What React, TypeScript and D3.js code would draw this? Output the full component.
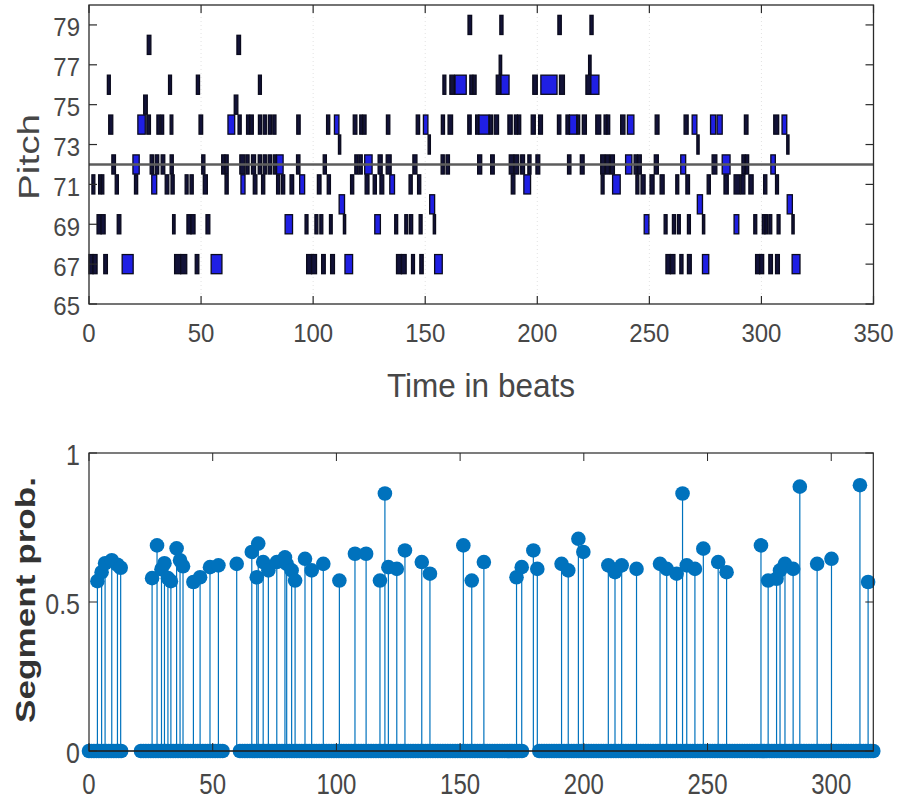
import React, { useEffect, useRef } from 'react';
import * as d3 from 'd3';

// piano roll, one list per pitch: [onset (beats), duration (beats), loud (1 = blue note)]
const notes67 = [[0, 1.8, 0], [1.8, 1.8, 0], [6.6, 1.6, 0], [14.8, 4.9, 1], [38.2, 2.7, 0], [40.9, 2.7, 0], [47.4, 1.6, 0], [54.5, 4.8, 1], [97.1, 2.2, 0], [99.3, 2.2, 0], [103.8, 1.6, 0], [107.8, 1.7, 0], [114.2, 3.4, 1], [137.2, 2.2, 0], [139.4, 2.1, 0], [143.9, 1.3, 0], [147.6, 1.5, 0], [154.2, 3.4, 1], [257.4, 2, 0], [259.4, 2, 0], [263.6, 1.4, 0], [267, 1.7, 0], [273.7, 2.8, 1], [297.4, 1.8, 0], [299.2, 1.8, 0], [303.3, 1.6, 0], [306.3, 1.7, 0], [313.7, 3.5, 1]];
const notes69 = [[3.6, 1.8, 0], [5.4, 1.8, 0], [12.6, 1.6, 0], [37.3, 1.1, 0], [43.7, 1.8, 0], [45.5, 1.8, 0], [52.2, 1.7, 0], [87.5, 3.3, 1], [96.4, 1.3, 0], [100.8, 1.3, 0], [103, 1.3, 0], [107.3, 1.2, 0], [113.5, 1, 0], [127.5, 2.5, 1], [136.4, 1.3, 0], [140.9, 1.3, 0], [143, 1.4, 0], [147.3, 1.3, 0], [153.6, 1, 0], [247.7, 2.1, 1], [256.6, 1.3, 0], [260.3, 1.3, 0], [262.5, 1.3, 0], [267, 1.3, 0], [273.7, 1, 0], [287.8, 2.1, 1], [296.6, 1.3, 0], [300.4, 1.1, 0], [301.6, 1.1, 0], [303.3, 1.3, 0], [307, 1.3, 0], [313.6, 1, 0]];
const notes70 = [[111.6, 2.4, 1], [152, 2.2, 1], [271.4, 2.3, 1], [311.5, 2.3, 1]];
const notes71 = [[1.3, 1.3, 0], [4.3, 1, 0], [5.6, 1, 0], [11.7, 1.4, 0], [20.3, 1.4, 0], [28, 2.2, 1], [34, 1.6, 0], [36.6, 1.4, 0], [42.9, 1.3, 0], [45.1, 1.4, 0], [51, 1.8, 0], [60.7, 1.4, 0], [67.8, 1.8, 1], [73.3, 1.6, 0], [77, 1.4, 0], [83.7, 1.4, 0], [85.9, 1.4, 0], [89.7, 1.6, 0], [94, 2.2, 1], [101.9, 1.6, 0], [106.3, 1.4, 0], [116.7, 1.4, 0], [123.2, 1.7, 0], [126.8, 1.4, 0], [129.8, 1.7, 0], [134.2, 2.1, 1], [142.8, 1.4, 0], [146.6, 1.4, 0], [188.4, 1.6, 0], [194, 3, 1], [228.5, 1.3, 0], [233.6, 3.4, 1], [244, 1.3, 0], [246.3, 1.8, 0], [250.3, 1.8, 0], [254.8, 1.8, 0], [261.8, 1.3, 0], [266.3, 1.6, 0], [275.8, 1.4, 0], [283.3, 1.9, 0], [287.8, 2.6, 0], [290.8, 1.8, 0], [294.4, 1.9, 0], [301, 1.4, 0], [306.3, 1.3, 0]];
const notes72 = [[10.2, 1.6, 0], [19.6, 2.8, 1], [27.3, 1.4, 0], [29.5, 1.6, 0], [32.2, 1.6, 0], [36.2, 1.4, 0], [50.3, 1.4, 0], [59.2, 1.4, 0], [60.7, 1.4, 0], [67.3, 2.2, 0], [70, 1.4, 0], [72.5, 1.8, 0], [75.5, 1.4, 0], [77.7, 1.4, 0], [79.9, 1.5, 0], [82.2, 1.2, 0], [83.7, 2.9, 1], [92.6, 1.5, 0], [104.5, 1.4, 0], [118.6, 1.4, 0], [120.4, 1.5, 0], [123, 3.3, 1], [129, 1.8, 0], [132.6, 2.2, 0], [144.5, 1.8, 0], [157.1, 1.4, 0], [159.3, 1.5, 0], [173.4, 1.8, 0], [179.2, 1.6, 0], [187.5, 2, 0], [189.7, 2, 0], [192.6, 1.7, 0], [195.8, 1.4, 0], [199.4, 1.7, 0], [213.5, 1.5, 0], [219.2, 1.7, 0], [228.3, 1.8, 0], [230.4, 1.8, 0], [232.6, 1.8, 0], [239.4, 2.8, 1], [243.2, 1.4, 0], [244.8, 1.6, 0], [252.2, 1.8, 0], [264, 2.2, 1], [278, 2.1, 0], [282.5, 3.5, 1], [291.3, 1.4, 0], [292.9, 1.4, 0], [304.2, 2, 1]];
const notes73 = [[111.3, 1, 0], [151.3, 1, 0], [271.2, 1, 0], [311.3, 1, 0]];
const notes74 = [[8.8, 1.8, 0], [21.8, 3.3, 1], [25.8, 1.6, 0], [30.3, 1.3, 0], [32, 1.3, 0], [36.2, 1.2, 0], [49.1, 1.6, 0], [62, 3, 1], [66.5, 1.4, 0], [70.3, 1.3, 0], [71.9, 1.4, 0], [75.6, 1.3, 0], [77.7, 1.4, 0], [80, 1.4, 0], [82, 1.4, 0], [92.7, 1.5, 0], [106, 1.4, 0], [109.5, 2, 1], [117.9, 1.6, 0], [120.8, 1.2, 0], [122.3, 1.3, 0], [132.7, 1.5, 0], [146, 1.5, 0], [149.2, 2, 1], [157.2, 1.4, 0], [160.2, 2, 0], [169, 1.5, 0], [172.5, 1.4, 0], [174, 4.4, 1], [178.6, 1.4, 0], [180.8, 1.9, 0], [186.9, 1.9, 0], [189.8, 1.3, 0], [191.3, 1.3, 0], [197.3, 1.8, 0], [200.6, 1.7, 0], [209, 1.5, 0], [212.8, 1.5, 0], [214.4, 3.2, 1], [217.8, 1.1, 0], [220.1, 1.8, 0], [226.1, 2.2, 0], [229.8, 1.2, 0], [231.1, 1.2, 0], [237.2, 1.9, 0], [240.2, 2.9, 1], [252.6, 1.7, 0], [265.5, 1.8, 0], [269.1, 2.1, 1], [277.3, 2.3, 1], [280.2, 2.3, 1], [292.4, 1.6, 0], [305.5, 2.2, 0], [309.2, 2.1, 1]];
const notes75 = [[24.4, 1.6, 0], [64.8, 1.6, 0]];
const notes76 = [[8.2, 1.3, 0], [35.5, 1.3, 0], [47.9, 1.4, 0], [75.6, 1.3, 0], [157.9, 1.3, 0], [161, 2, 0], [163.3, 5, 1], [169.9, 1.3, 0], [171.4, 1.3, 0], [181.7, 2, 0], [183.8, 3.6, 1], [198, 2, 0], [201.6, 7.2, 1], [209.9, 2.2, 0], [221.7, 2.1, 0], [223.9, 3.6, 1]];
const notes77 = [[183, 1.1, 0], [222.9, 1.1, 0]];
const notes78 = [[26, 1.6, 0], [66, 1.6, 0]];
const notes79 = [[169.1, 1.6, 0], [183.3, 1.4, 0], [209.2, 1.5, 0], [223.5, 1.4, 0]];

const rollRows: [number, number[][]][] = [
  [67, notes67], [69, notes69], [70, notes70], [71, notes71], [72, notes72], [73, notes73],
  [74, notes74], [75, notes75], [76, notes76], [77, notes77], [78, notes78], [79, notes79],
];
const referencePitch = 72;

const pitchTicks = [65, 67, 69, 71, 73, 75, 77, 79];
const beatTicks = [0, 50, 100, 150, 200, 250, 300, 350];

// segment probabilities (non-zero stems)
const stemX = [3.4, 5.1, 6.5, 9.2, 11.5, 12.8, 25.5, 27.5, 29.3, 30.5, 31.9, 33.1, 35.4, 36.8, 38, 42.2, 44.9, 48.9, 52.3, 59.7, 65.8, 67.8, 68.4, 70.4, 72.5, 75.9, 79.2, 79.9, 81.9, 83.3, 87.3, 90, 94.7, 101.2, 107.5, 112, 117.6, 119.6, 121, 124.4, 127.7, 134.5, 137.8, 151.3, 154.7, 159.6, 172.8, 174.9, 179.6, 181.2, 191, 193.7, 197.8, 199.8, 209.9, 212.6, 215.3, 221.3, 230.8, 233.5, 237.5, 239.9, 241.6, 244.9, 248.3, 254.3, 257.7, 271.6, 274.5, 277.9, 279.3, 281.3, 284.6, 287.3, 294.3, 300.1, 311.6, 314.9];
const stemY = [0.57, 0.6, 0.63, 0.64, 0.625, 0.615, 0.58, 0.69, 0.61, 0.63, 0.58, 0.57, 0.68, 0.64, 0.62, 0.567, 0.583, 0.617, 0.623, 0.628, 0.668, 0.583, 0.696, 0.634, 0.606, 0.634, 0.65, 0.628, 0.606, 0.572, 0.645, 0.606, 0.628, 0.572, 0.662, 0.662, 0.572, 0.864, 0.617, 0.611, 0.673, 0.634, 0.595, 0.69, 0.572, 0.634, 0.583, 0.617, 0.673, 0.611, 0.628, 0.606, 0.712, 0.668, 0.623, 0.6, 0.623, 0.611, 0.628, 0.611, 0.595, 0.864, 0.623, 0.611, 0.679, 0.634, 0.6, 0.69, 0.572, 0.578, 0.606, 0.628, 0.611, 0.887, 0.628, 0.645, 0.892, 0.567];
// stretches of beats whose probability is 0 (first beat, last beat)
const zeroRuns = [[0, 13], [21, 54], [61, 175], [182, 317]];

const probXTicks = [0, 50, 100, 150, 200, 250, 300];
const probYTicks = [0, 0.5, 1];

const FONT = '"Liberation Sans", Arial, sans-serif';
const INK = '#474747';

const App = () => {
  const svgRef = useRef<SVGSVGElement>(null);

  useEffect(() => {
    const svg = d3.select(svgRef.current);
    svg.selectAll('*').remove();

    const label = (g: any, x: number, y: number, txt: string, anchor: string, size: number, sy = 1) =>
      g.append('text')
        .attr('transform', `translate(${x},${y}) scale(1,${sy})`)
        .attr('text-anchor', anchor)
        .attr('dominant-baseline', 'central')
        .style('font-family', FONT)
        .style('font-size', `${size}px`)
        .attr('fill', INK)
        .text(txt);

    // ---------- piano roll ----------
    const x1 = d3.scaleLinear().domain([0, 350]).range([89, 873.5]);
    const y1 = d3.scaleLinear().domain([65, 80]).range([304, 5]);
    const top = svg.append('g');

    top.selectAll('.grid').data(beatTicks.slice(1, -1)).enter().append('line')
      .attr('x1', d => x1(d)).attr('x2', d => x1(d))
      .attr('y1', y1(80)).attr('y2', y1(65))
      .attr('stroke', '#e2e2e2').attr('stroke-dasharray', '1,3');

    rollRows.forEach(([pitch, list]) => {
      top.append('g').selectAll('rect').data(list).enter().append('rect')
        .attr('x', d => x1(d[0]))
        .attr('width', d => x1(d[0] + d[1]) - x1(d[0]))
        .attr('y', y1(pitch + 0.48))
        .attr('height', y1(pitch - 0.48) - y1(pitch + 0.48))
        .attr('fill', d => (d[2] ? '#1f1fe4' : '#121238'))
        .attr('stroke', '#0a0a1c')
        .attr('stroke-width', 1.3);
    });

    top.append('line')
      .attr('x1', x1(0)).attr('x2', x1(350))
      .attr('y1', y1(referencePitch)).attr('y2', y1(referencePitch))
      .attr('stroke', '#5c5c5c').attr('stroke-width', 2.4);

    top.append('rect')
      .attr('x', x1(0)).attr('y', y1(80))
      .attr('width', x1(350) - x1(0)).attr('height', y1(65) - y1(80))
      .attr('fill', 'none').attr('stroke', '#2a2a2a').attr('stroke-width', 1.3);

    beatTicks.forEach(t => {
      top.append('line').attr('x1', x1(t)).attr('x2', x1(t)).attr('y1', y1(65)).attr('y2', y1(65) - 8).attr('stroke', '#2a2a2a').attr('stroke-width', 1.2);
      top.append('line').attr('x1', x1(t)).attr('x2', x1(t)).attr('y1', y1(80)).attr('y2', y1(80) + 8).attr('stroke', '#2a2a2a').attr('stroke-width', 1.2);
      label(top, x1(t), 333, String(t), 'middle', 24, 1.1);
    });
    pitchTicks.forEach(p => {
      top.append('line').attr('x1', x1(0)).attr('x2', x1(0) + 8).attr('y1', y1(p)).attr('y2', y1(p)).attr('stroke', '#2a2a2a').attr('stroke-width', 1.2);
      top.append('line').attr('x1', x1(350)).attr('x2', x1(350) - 8).attr('y1', y1(p)).attr('y2', y1(p)).attr('stroke', '#2a2a2a').attr('stroke-width', 1.2);
      label(top, 80, y1(p) + 2, String(p), 'end', 24, 1.1);
    });

    top.append('text')
      .attr('transform', 'translate(481,385)')
      .attr('text-anchor', 'middle').attr('dominant-baseline', 'central')
      .attr('textLength', 188).attr('lengthAdjust', 'spacingAndGlyphs')
      .style('font-family', FONT).style('font-size', '33px')
      .attr('fill', INK).text('Time in beats');

    top.append('text')
      .attr('transform', 'translate(29,157) rotate(-90)')
      .attr('text-anchor', 'middle').attr('dominant-baseline', 'central')
      .attr('textLength', 86).attr('lengthAdjust', 'spacingAndGlyphs')
      .style('font-family', FONT).style('font-size', '29px')
      .attr('fill', INK).text('Pitch');

    // ---------- segment probability stem plot ----------
    const x2 = d3.scaleLinear().domain([0, 317]).range([89, 873.3]);
    const y2 = d3.scaleLinear().domain([0, 1]).range([751, 453]);
    const bot = svg.append('g');
    const blue = '#0072BD';
    const r = 7.3;

    const stems = stemX.map((x, i) => ({ x, y: stemY[i] }));
    const zeros = zeroRuns.flatMap(([a, b]) => d3.range(a, b + 1));

    bot.selectAll('.stem').data(stems).enter().append('line')
      .attr('x1', d => x2(d.x)).attr('x2', d => x2(d.x))
      .attr('y1', y2(0)).attr('y2', d => y2(d.y))
      .attr('stroke', blue).attr('stroke-width', 1.2);

    bot.selectAll('.zero').data(zeros).enter().append('circle')
      .attr('cx', d => x2(d)).attr('cy', y2(0)).attr('r', r)
      .attr('fill', blue);

    bot.selectAll('.head').data(stems).enter().append('circle')
      .attr('cx', d => x2(d.x)).attr('cy', d => y2(d.y)).attr('r', r)
      .attr('fill', blue);

    bot.append('line')
      .attr('x1', x2(0)).attr('x2', x2(317))
      .attr('y1', y2(0)).attr('y2', y2(0))
      .attr('stroke', '#111').attr('stroke-width', 1);

    bot.append('rect')
      .attr('x', x2(0)).attr('y', y2(1))
      .attr('width', x2(317) - x2(0)).attr('height', y2(0) - y2(1))
      .attr('fill', 'none').attr('stroke', '#262626').attr('stroke-width', 1.2);

    probXTicks.forEach(t => {
      bot.append('line').attr('x1', x2(t)).attr('x2', x2(t)).attr('y1', y2(0)).attr('y2', y2(0) - 8).attr('stroke', '#262626');
      bot.append('line').attr('x1', x2(t)).attr('x2', x2(t)).attr('y1', y2(1)).attr('y2', y2(1) + 8).attr('stroke', '#262626');
      label(bot, x2(t), 784, String(t), 'middle', 24, 1.25);
    });
    probYTicks.forEach(v => {
      bot.append('line').attr('x1', x2(0)).attr('x2', x2(0) + 8).attr('y1', y2(v)).attr('y2', y2(v)).attr('stroke', '#262626');
      bot.append('line').attr('x1', x2(317)).attr('x2', x2(317) - 8).attr('y1', y2(v)).attr('y2', y2(v)).attr('stroke', '#262626');
      label(bot, 80, y2(v) + 2, String(v), 'end', 25, 1.2);
    });

    bot.append('text')
      .attr('transform', 'translate(26,600) rotate(-90)')
      .attr('text-anchor', 'middle').attr('dominant-baseline', 'central')
      .attr('textLength', 246).attr('lengthAdjust', 'spacingAndGlyphs')
      .style('font-family', FONT).style('font-size', '27px').style('font-weight', 'bold')
      .attr('fill', '#333').text('Segment prob.');
  }, []);

  return (
    <svg
      ref={svgRef}
      width={898}
      height={804}
      style={{ position: 'absolute', left: 0, top: 0, background: '#fff', display: 'block' }}
    />
  );
};

export default App;
